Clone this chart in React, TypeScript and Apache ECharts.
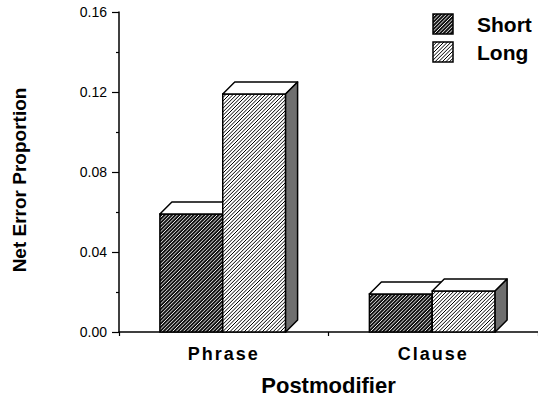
import React, { useEffect, useRef } from "react";
import * as echarts from "echarts";

const categories = ["Phrase", "Clause"];
const shortValues = [0.059, 0.019];
const longValues = [0.119, 0.0205];
const yTicks = { min: 0, max: 0.16, interval: 0.04 };
const seriesNames = ["Short", "Long"];

const FONT = "'Liberation Sans', Arial, Helvetica, sans-serif";
const DEPTH = 12;

// segments of "/" hatch lines (x + y = c) clipped to a rectangle
function hatchSegments(x0: number, y0: number, x1: number, y1: number, p: number) {
  const segs: number[][] = [];
  const cStart = Math.ceil((x0 + y0) / p) * p;
  for (let c = cStart; c <= x1 + y1; c += p) {
    const xa = Math.max(x0, c - y1);
    const xb = Math.min(x1, c - y0);
    if (xb - xa > 0.2) segs.push([xa, c - xa, xb, c - xb]);
  }
  return segs;
}

function makeRenderItem(isShort: boolean) {
  return (params: any, api: any) => {
    const ci = api.value(0);
    const v = api.value(1);
    const base = api.coord([ci, 0]);
    const top = api.coord([ci, v]);
    const band = api.size([1, 0])[0];
    const bw = band * 0.3;
    const cx = base[0] - 1;
    const x0 = isShort ? cx - bw : cx;
    const x1 = isShort ? cx : cx + bw;
    const yt = top[1];
    const yb = base[1];
    const d = DEPTH;
    const segs = hatchSegments(x0, yt, x1, yb, 3.6);
    const pathData = segs
      .map((s) => `M${s[0].toFixed(2)} ${s[1].toFixed(2)}L${s[2].toFixed(2)} ${s[3].toFixed(2)}`)
      .join("");
    const children: any[] = [
      {
        type: "rect",
        shape: { x: x0, y: yt, width: x1 - x0, height: yb - yt },
        style: { fill: isShort ? "#141414" : "#ffffff", stroke: "none" },
      },
    ];
    if (pathData) {
      children.push({
        type: "path",
        shape: { pathData },
        style: {
          fill: "none",
          stroke: isShort ? "#ffffff" : "#000000",
          lineWidth: isShort ? 0.9 : 1.0,
        },
      });
    }
    children.push(
      {
        type: "rect",
        shape: { x: x0, y: yt, width: x1 - x0, height: yb - yt },
        style: { fill: "none", stroke: "#000", lineWidth: 1.5 },
      },
      {
        type: "polygon",
        shape: {
          points: [
            [x0, yt],
            [x1, yt],
            [x1 + d, yt - d],
            [x0 + d, yt - d],
          ],
        },
        style: { fill: "#ffffff", stroke: "#000", lineWidth: 1.5, lineJoin: "round" },
      },
      {
        type: "polygon",
        shape: {
          points: [
            [x1, yt],
            [x1 + d, yt - d],
            [x1 + d, yb - d],
            [x1, yb],
          ],
        },
        style: { fill: "#6f6f6f", stroke: "#000", lineWidth: 1.5, lineJoin: "round" },
      }
    );
    return { type: "group", children };
  };
}

function legendSwatch(x: number, y: number, size: number, isShort: boolean) {
  const segs = hatchSegments(x, y, x + size, y + size, 3.6);
  const els: any[] = [
    {
      type: "rect",
      shape: { x, y, width: size, height: size },
      style: { fill: isShort ? "#141414" : "#ffffff" },
    },
  ];
  segs.forEach((s) =>
    els.push({
      type: "line",
      shape: { x1: s[0], y1: s[1], x2: s[2], y2: s[3] },
      style: { stroke: isShort ? "#ffffff" : "#000000", lineWidth: isShort ? 0.9 : 1.0 },
    })
  );
  els.push({
    type: "rect",
    shape: { x, y, width: size, height: size },
    style: { fill: "none", stroke: "#000", lineWidth: 1.5 },
  });
  return els;
}

export default function App() {
  const ref = useRef<HTMLDivElement>(null);
  useEffect(() => {
    if (!ref.current) return;
    const el = ref.current;
    const chart = echarts.init(el, null, { renderer: "svg" });
    const shortData = categories.map((c, i) => [i, shortValues[i]]);
    const longData = categories.map((c, i) => [i, longValues[i]]);
    chart.setOption({
      animation: false,
      backgroundColor: "#ffffff",
      grid: { left: 119, top: 12, width: 422, height: 320, containLabel: false },
      xAxis: {
        type: "category",
        data: categories,
        boundaryGap: true,
        name: "Postmodifier",
        nameLocation: "middle",
        nameGap: 42,
        nameTextStyle: { fontFamily: FONT, fontSize: 22, fontWeight: "bold", color: "#000" },
        axisLine: { show: true, lineStyle: { color: "#000", width: 1.5 } },
        axisTick: { show: true, length: 4, lineStyle: { color: "#000", width: 1.2 } },
        axisLabel: {
          fontFamily: FONT,
          fontSize: 18,
          fontWeight: "bold",
          color: "#000",
          margin: 13,
        },
        splitLine: { show: false },
      },
      yAxis: {
        type: "value",
        min: yTicks.min,
        max: yTicks.max,
        interval: yTicks.interval,
        axisLine: { show: true, lineStyle: { color: "#000", width: 1.5 } },
        axisTick: { show: true, length: 7, lineStyle: { color: "#000", width: 1.2 } },
        minorTick: { show: true, splitNumber: 2, length: 3, lineStyle: { color: "#000", width: 1.2 } },
        axisLabel: {
          fontFamily: FONT,
          fontSize: 14,
          color: "#000",
          margin: 12,
          formatter: (v: number) => v.toFixed(2),
        },
        splitLine: { show: false },
      },
      series: [
        {
          name: seriesNames[0],
          type: "custom",
          renderItem: makeRenderItem(true),
          data: shortData,
          encode: { x: 0, y: 1 },
          z: 2,
        },
        {
          name: seriesNames[1],
          type: "custom",
          renderItem: makeRenderItem(false),
          data: longData,
          encode: { x: 0, y: 1 },
          z: 2,
        },
      ],
      graphic: [
        {
          type: "text",
          x: 19,
          y: 180,
          rotation: Math.PI / 2,
          style: {
            text: "Net Error Proportion",
            fontFamily: FONT,
            fontSize: 19,
            fontWeight: "bold",
            fill: "#000",
            align: "center",
            verticalAlign: "middle",
          },
        },
        ...legendSwatch(433, 14, 20, true),
        ...legendSwatch(433, 42, 20, false),
        {
          type: "text",
          x: 477,
          y: 24,
          style: {
            text: seriesNames[0],
            fontFamily: FONT,
            fontSize: 21,
            fontWeight: "bold",
            fill: "#000",
            align: "left",
            verticalAlign: "middle",
          },
        },
        {
          type: "text",
          x: 477,
          y: 52,
          style: {
            text: seriesNames[1],
            fontFamily: FONT,
            fontSize: 21,
            fontWeight: "bold",
            fill: "#000",
            align: "left",
            verticalAlign: "middle",
          },
        },
      ],
    });
    const applySpacing = () => {
      el.querySelectorAll("text").forEach((t) => {
        if (categories.includes((t.textContent || "").trim())) {
          (t as SVGTextElement).style.letterSpacing = "2px";
        }
      });
    };
    applySpacing();
    chart.on("finished", applySpacing);
    return () => {
      chart.dispose();
    };
  }, []);
  return (
    <div
      ref={ref}
      style={{ position: "absolute", left: 0, top: 0, width: 538, height: 402, background: "#fff" }}
    />
  );
}
